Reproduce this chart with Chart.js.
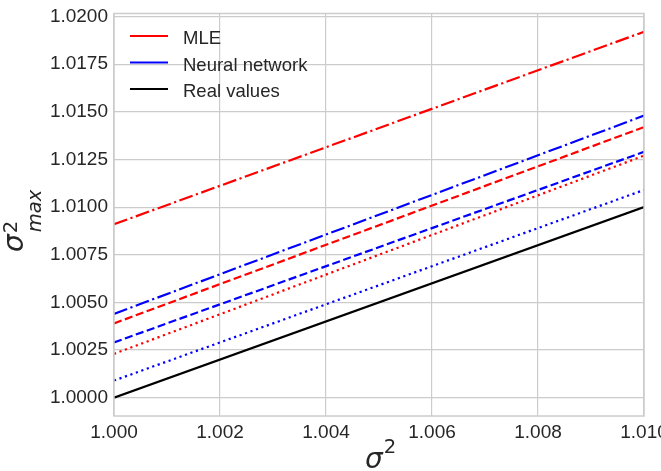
<!DOCTYPE html>
<html lang="en">
<head>
<meta charset="UTF-8">
<title>sigma2 max vs sigma2</title>
<script src="https://cdn.jsdelivr.net/npm/chart.js@4.4.0/dist/chart.umd.min.js"></script>
<style>
  html, body { margin: 0; padding: 0; background: #ffffff; }
  #chart { display: block; }
</style>
</head>
<body>
<canvas id="chart" width="661" height="471"></canvas>
<script>
// sigma^2 on the x axis, and the sigma^2_max at both ends
const sigma2 = [1.000, 1.010];
const mleDashDot = [1.0091, 1.0192];
const mleDashed = [1.0039, 1.0142];
const mleDotted = [1.0023, 1.0127];
const nnDashDot = [1.0044, 1.0148];
const nnDashed = [1.0029, 1.0129];
const nnDotted = [1.0009, 1.0109];
const realValues = [1.0000, 1.0100];

const xTicks = [1.000, 1.002, 1.004, 1.006, 1.008, 1.010];
const yTicks = [1.0000, 1.0025, 1.0050, 1.0075, 1.0100, 1.0125, 1.0150, 1.0175, 1.0200];

const legendLabels = ['MLE', 'Neural network', 'Real values'];
const legendColors = ['#ff0000', '#0000ff', '#000000'];

const RED = '#ff0000', BLUE = '#0000ff', BLACK = '#000000';
const LW = 2.2;
const DASHDOT = [14, 3.5, 2.2, 3.5];
const DASHED = [8.1, 3.5];
const DOTTED = [2.2, 3.6];
const TEXT = '#262626';
const GRID = '#cccccc';

function points(ys) {
    return sigma2.map((x, i) => ({ x: x, y: ys[i] }));
}

function line(ys, color, dash) {
    return {
        data: points(ys),
        borderColor: color,
        borderWidth: LW,
        borderDash: dash,
        pointRadius: 0,
        fill: false,
        tension: 0
    };
}

// index 0 ends up on top in Chart.js, so the real values go first
const datasets = [
    line(realValues, BLACK, []),
    line(nnDotted, BLUE, DOTTED),
    line(nnDashed, BLUE, DASHED),
    line(nnDashDot, BLUE, DASHDOT),
    line(mleDotted, RED, DOTTED),
    line(mleDashed, RED, DASHED),
    line(mleDashDot, RED, DASHDOT)
];

// frame, legend and the two math axis titles
const decorations = {
    id: 'decorations',
    afterDatasetsDraw(chart) {
        const ctx = chart.ctx;
        const a = chart.chartArea;
        ctx.save();
        ctx.strokeStyle = GRID;
        ctx.lineWidth = 1.5;
        ctx.strokeRect(a.left, a.top, a.right - a.left, a.bottom - a.top);
        ctx.restore();
    },
    afterDraw(chart) {
        const ctx = chart.ctx;
        ctx.save();

        // legend
        ctx.font = '18.5px "Liberation Sans", Arial, sans-serif';
        ctx.textBaseline = 'alphabetic';
        ctx.textAlign = 'left';
        legendLabels.forEach((label, i) => {
            const y = 36 + i * 26.5;
            ctx.strokeStyle = legendColors[i];
            ctx.lineWidth = LW;
            ctx.setLineDash([]);
            ctx.beginPath();
            ctx.moveTo(130, y);
            ctx.lineTo(168, y);
            ctx.stroke();
            ctx.fillStyle = TEXT;
            ctx.fillText(label, 183, y + 8.3);
        });

        ctx.fillStyle = TEXT;

        // x title: sigma^2
        ctx.font = 'italic 28px "DejaVu Sans"';
        ctx.fillText('σ', 365, 468);
        let w = ctx.measureText('σ').width;
        ctx.font = '19.6px "DejaVu Sans"';
        ctx.fillText('2', 365 + w + 1, 453);

        // y title: sigma^2_max, rotated
        ctx.translate(23, 252);
        ctx.rotate(-Math.PI / 2);
        ctx.font = 'italic 28px "DejaVu Sans"';
        ctx.fillText('σ', 0, 0);
        w = ctx.measureText('σ').width;
        ctx.font = '19.6px "DejaVu Sans"';
        ctx.fillText('2', w + 1, -6);
        ctx.font = 'italic 19.6px "DejaVu Sans"';
        ctx.fillText('max', w + 2, 18);

        ctx.restore();
    }
};

new Chart(document.getElementById('chart'), {
    type: 'line',
    data: { datasets: datasets },
    options: {
        responsive: false,
        animation: false,
        events: [],
        layout: { padding: { left: 0, top: 13.5, right: 17, bottom: 0 } },
        plugins: {
            legend: { display: false },
            tooltip: { enabled: false }
        },
        scales: {
            x: {
                type: 'linear',
                min: 1.000,
                max: 1.010,
                afterBuildTicks: s => { s.ticks = xTicks.map(v => ({ value: v })); },
                afterFit: s => { s.height = 55; s.paddingLeft = 0; s.paddingRight = 0; },
                grid: { color: GRID, lineWidth: 1.2, drawTicks: false },
                border: { display: false },
                ticks: {
                    padding: 5,
                    color: TEXT,
                    maxRotation: 0,
                    autoSkip: false,
                    font: { family: '"Liberation Sans", Arial, sans-serif', size: 19 },
                    callback: v => v.toFixed(3)
                }
            },
            y: {
                type: 'linear',
                min: 0.99904,
                max: 1.02016,
                afterBuildTicks: s => { s.ticks = yTicks.map(v => ({ value: v })); },
                afterFit: s => { s.width = 114; s.paddingTop = 0; s.paddingBottom = 0; },
                grid: { color: GRID, lineWidth: 1.2, drawTicks: false },
                border: { display: false },
                ticks: {
                    padding: 6,
                    color: TEXT,
                    autoSkip: false,
                    font: { family: '"Liberation Sans", Arial, sans-serif', size: 19 },
                    callback: v => v.toFixed(4)
                }
            }
        }
    },
    plugins: [decorations]
});
</script>
</body>
</html>
